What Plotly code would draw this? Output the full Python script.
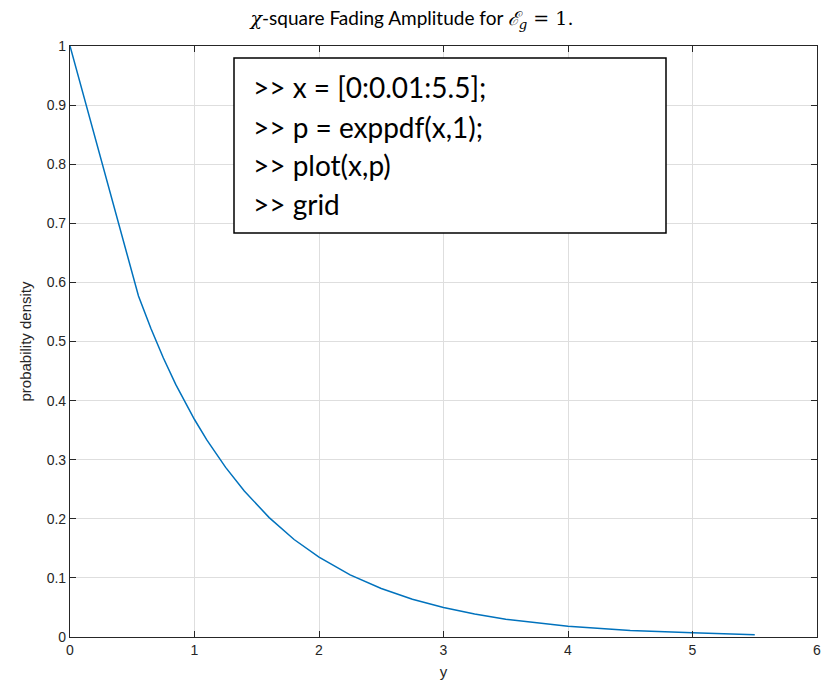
import plotly.graph_objects as go

# Data
x_vals = [0.0, 0.55, 0.65, 0.75, 0.85, 1.0, 1.1, 1.25, 1.4, 1.6, 1.8, 2.0,
          2.25, 2.5, 2.75, 3.0, 3.25, 3.5, 4.0, 4.5, 5.0, 5.5]
p_vals = [1.0, 0.577, 0.522, 0.472, 0.427, 0.368, 0.333, 0.287, 0.247, 0.202,
          0.165, 0.135, 0.105, 0.082, 0.064, 0.050, 0.039, 0.030, 0.018,
          0.011, 0.007, 0.004]
x_ticks = [0, 1, 2, 3, 4, 5, 6]
y_ticks = [0, 0.1, 0.2, 0.3, 0.4, 0.5, 0.6, 0.7, 0.8, 0.9, 1]
code_lines = [">> x = [0:0.01:5.5];", ">> p = exppdf(x,1);", ">> plot(x,p)", ">> grid"]

W, H = 824, 680
L, R, T, B = 70, 7, 46, 43
pw, ph = W - L - R, H - T - B

def px2paper_x(px):
    return (px - L) / pw

def px2paper_y(py):
    return 1 - (py - T) / ph

fig = go.Figure()
fig.add_trace(go.Scatter(x=x_vals, y=p_vals, mode="lines",
                         line=dict(color="#0072BD", width=1.5),
                         showlegend=False, hoverinfo="skip"))

axis_common = dict(showgrid=True, gridcolor="#DEDEDE", gridwidth=1,
                   zeroline=False, showline=True, linecolor="#262626",
                   linewidth=1.2, mirror="ticks", ticks="inside", ticklen=6,
                   tickcolor="#262626", tickwidth=1.2, automargin=False,
                   tickfont=dict(family="Liberation Sans, Arial", size=14, color="#262626"))

fig.update_xaxes(range=[0, 6], tickvals=x_ticks, ticktext=[str(v) for v in x_ticks],
                 title=dict(text="y", font=dict(family="Liberation Sans, Arial", size=15, color="#262626"),
                            standoff=10),
                 **axis_common)
fig.update_yaxes(range=[0, 1], tickvals=y_ticks, ticktext=[("%g" % v) for v in y_ticks],
                 title=dict(text="probability density", font=dict(family="Liberation Sans, Arial", size=15, color="#262626"),
                            standoff=11),
                 **axis_common)

# Code box
fig.add_shape(type="rect", xref="paper", yref="paper",
              x0=px2paper_x(234), x1=px2paper_x(666),
              y0=px2paper_y(233), y1=px2paper_y(58),
              line=dict(color="black", width=1.5), fillcolor="white", layer="above")
line_ys = [87, 127, 165, 204]
for txt, yy in zip(code_lines, line_ys):
    fig.add_annotation(xref="paper", yref="paper", x=px2paper_x(251), y=px2paper_y(yy),
                       text=txt.replace(">", "&gt;"), showarrow=False, xanchor="left", yanchor="middle",
                       font=dict(family="Lato, Open Sans", size=28, color="black"))

math = "font-family:DejaVu Serif"
fig.update_layout(
    width=W, height=H,
    margin=dict(l=L, r=R, t=T, b=B, autoexpand=False),
    paper_bgcolor="white", plot_bgcolor="white",
    title=dict(text=(f"<span style='{math}'><i>χ</i></span>-square Fading Amplitude for "
                     f"<span style='{math}'><i>ℰ</i><sub><i>g</i></sub> = 1.</span>"),
               x=0.5, xanchor="center", y=1 - 18 / H, yanchor="middle",
               font=dict(family="Lato, Open Sans", size=19, color="black")),
)

fig.write_html("out.html")
